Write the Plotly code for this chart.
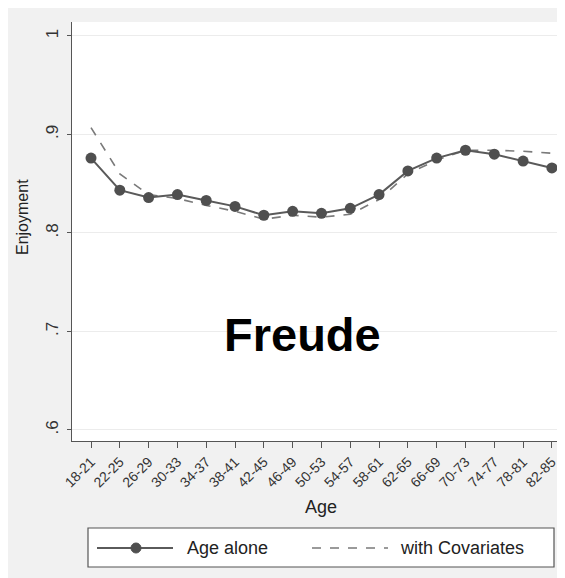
import plotly.graph_objects as go

age_groups = ["18-21", "22-25", "26-29", "30-33", "34-37", "38-41", "42-45", "46-49",
              "50-53", "54-57", "58-61", "62-65", "66-69", "70-73", "74-77", "78-81", "82-85"]
age_alone = [0.876, 0.8435, 0.836, 0.839, 0.833, 0.827, 0.818, 0.822,
             0.820, 0.825, 0.839, 0.863, 0.876, 0.884, 0.880, 0.873, 0.866]
with_covariates = [0.907, 0.860, 0.839, 0.835, 0.828, 0.822, 0.814, 0.818,
                   0.816, 0.819, 0.834, 0.860, 0.874, 0.884, 0.884, 0.883, 0.881]
y_ticks = [0.6, 0.7, 0.8, 0.9, 1.0]
y_tick_labels = [".6", ".7", ".8", ".9", "1"]

OFF = 8  # page body margin
W, H = 557, 570
# plot area in page pixels
PL, PR, PT, PB = 72, 564, 22, 441
L, R, T, B = PL - OFF, PR - OFF, PT - OFF, PB - OFF


def px(x):  # page x -> paper
    return (x - PL) / (PR - PL)


def py(y):  # page y -> paper
    return (PB - y) / (PB - PT)


x_idx = list(range(len(age_groups)))

fig = go.Figure()
fig.add_trace(go.Scatter(
    x=x_idx, y=with_covariates, mode="lines", name="with Covariates",
    line=dict(color="#7a7a7a", width=1.6, dash="dash"), showlegend=False))
fig.add_trace(go.Scatter(
    x=x_idx, y=age_alone, mode="lines+markers", name="Age alone",
    line=dict(color="#5a5a5a", width=2),
    marker=dict(color="#4f4f4f", size=11), showlegend=False))

font_family = "Liberation Sans, Arial, sans-serif"

shapes = [
    # legend box
    dict(type="rect", xref="paper", yref="paper", x0=px(88), x1=px(554), y0=py(528), y1=py(567),
         fillcolor="white", line=dict(color="#555555", width=1.2), layer="above"),
    dict(type="line", xref="paper", yref="paper", x0=px(97), x1=px(173), y0=py(548), y1=py(548),
         line=dict(color="#5a5a5a", width=2), layer="above"),
    dict(type="circle", xref="paper", yref="paper", x0=px(131), x1=px(141), y0=py(543), y1=py(553),
         fillcolor="#4f4f4f", line=dict(color="#4f4f4f", width=1), layer="above"),
    dict(type="line", xref="paper", yref="paper", x0=px(312), x1=px(388), y0=py(548), y1=py(548),
         line=dict(color="#7a7a7a", width=1.6, dash="dash"), layer="above"),
]

annotations = [
    dict(text="Age alone", xref="paper", yref="paper", x=px(185), y=py(548),
         xanchor="left", yanchor="middle", showarrow=False,
         font=dict(size=18, color="#222222", family=font_family)),
    dict(text="with Covariates", xref="paper", yref="paper", x=px(398), y=py(548),
         xanchor="left", yanchor="middle", showarrow=False,
         font=dict(size=18, color="#222222", family=font_family)),
    dict(text="<b>Freude</b>", xref="paper", yref="paper", x=px(302), y=py(334),
         xanchor="center", yanchor="middle", showarrow=False,
         font=dict(size=47, color="black", family=font_family)),
    dict(text="Enjoyment", xref="paper", yref="paper", x=px(22), y=py(217),
         xanchor="center", yanchor="middle", showarrow=False, textangle=-90,
         font=dict(size=16, color="#222222", family=font_family)),
    dict(text="Age", xref="paper", yref="paper", x=px(321), y=py(507),
         xanchor="center", yanchor="middle", showarrow=False,
         font=dict(size=18, color="#222222", family=font_family)),
]

fig.update_layout(
    width=W, height=H, autosize=False,
    margin=dict(l=L, r=W - R, t=T, b=H - B, pad=0, autoexpand=False),
    paper_bgcolor="#f1f1f1", plot_bgcolor="white",
    font=dict(family=font_family, color="#333333"),
    shapes=shapes, annotations=annotations, showlegend=False,
    xaxis=dict(
        range=[-0.66, 16.42], tickmode="array", tickvals=x_idx, ticktext=age_groups,
        tickangle=-45, tickfont=dict(size=14, color="#333333"), automargin=False,
        ticks="outside", ticklen=6, tickcolor="#555555",
        showline=True, linecolor="#555555", linewidth=1.3, showgrid=False, zeroline=False,
    ),
    yaxis=dict(
        range=[0.5888, 1.0142], tickmode="array", tickvals=y_ticks, ticktext=y_tick_labels,
        tickangle=-90, tickfont=dict(size=17, color="#333333"), automargin=False,
        ticks="outside", ticklen=4, tickcolor="#555555", ticklabelstandoff=2,
        showline=True, linecolor="#555555", linewidth=1.3,
        showgrid=True, gridcolor="#ececec", gridwidth=1, zeroline=False,
    ),
)

fig.write_html("out.html", config={"responsive": False},
               default_width=f"{W}px", default_height=f"{H}px")
